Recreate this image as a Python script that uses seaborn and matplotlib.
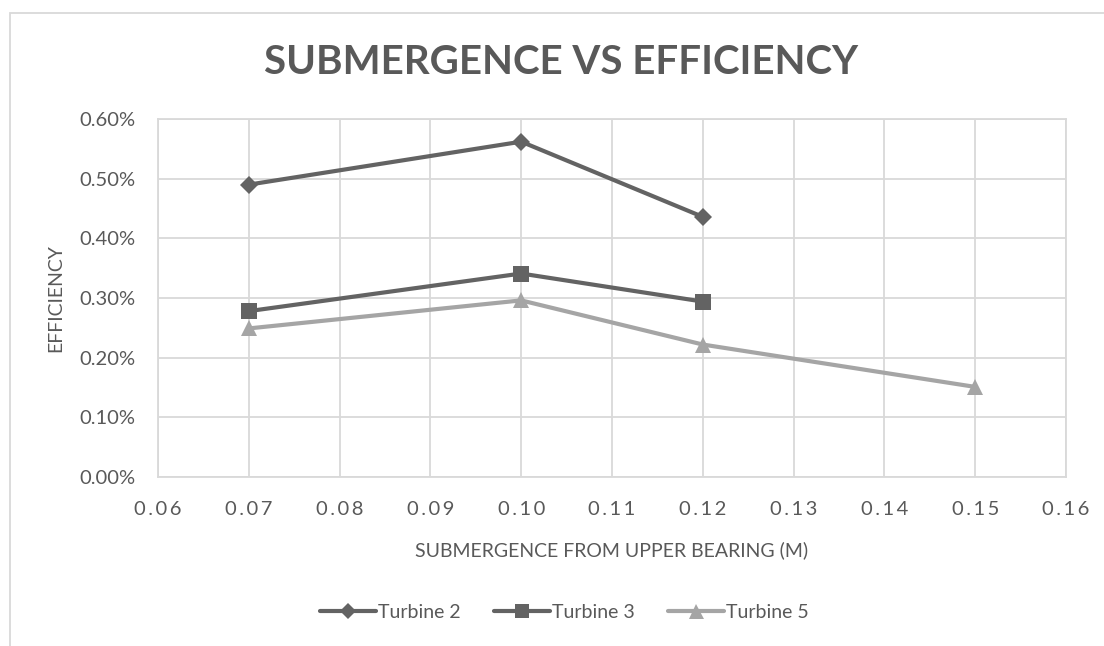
import numpy as np
import pandas as pd
import seaborn as sns
import matplotlib
matplotlib.use("Agg")
import matplotlib.pyplot as plt
from matplotlib.patches import Rectangle
from matplotlib.lines import Line2D
from matplotlib.ticker import FuncFormatter, MultipleLocator

# data (efficiency in %)
t2_x = [0.07, 0.10, 0.12]
t2_y = [0.490, 0.562, 0.436]
t3_x = [0.07, 0.10, 0.12]
t3_y = [0.278, 0.341, 0.294]
t5_x = [0.07, 0.10, 0.12, 0.15]
t5_y = [0.249, 0.296, 0.222, 0.151]
series_names = ["Turbine 2", "Turbine 3", "Turbine 5"]

TEXT = "#595959"
GRID = "#d9d9d9"
colors = {"Turbine 2": "#636363", "Turbine 3": "#636363", "Turbine 5": "#a5a5a5"}
markers = {"Turbine 2": "D", "Turbine 3": "s", "Turbine 5": "^"}
msizes = {"Turbine 2": 9, "Turbine 3": 11, "Turbine 5": 12}

df = pd.concat([
    pd.DataFrame({"x": t2_x, "y": t2_y, "series": "Turbine 2"}),
    pd.DataFrame({"x": t3_x, "y": t3_y, "series": "Turbine 3"}),
    pd.DataFrame({"x": t5_x, "y": t5_y, "series": "Turbine 5"}),
])

sns.set_theme(style="white")
plt.rcParams["font.family"] = ["Lato", "DejaVu Sans"]

fig = plt.figure(figsize=(11.04, 6.46), dpi=100)
ax = fig.add_axes([158 / 1104, 1 - 477 / 646, (1066 - 158) / 1104, (477 - 119) / 646])

for name in series_names:
    sub = df[df["series"] == name]
    sns.lineplot(data=sub, x="x", y="y", ax=ax, color=colors[name], linewidth=3,
                 marker=markers[name], markersize=msizes[name],
                 markeredgewidth=0, legend=False, zorder=3)

ax.set_xlim(0.06, 0.16)
ax.set_ylim(0, 0.6)
ax.xaxis.set_major_locator(MultipleLocator(0.01))
ax.yaxis.set_major_locator(MultipleLocator(0.1))
# the x labels are letter-spaced in the original
ax.xaxis.set_major_formatter(FuncFormatter(lambda v, p: "\u2009".join(f"{v:.2f}")))
ax.yaxis.set_major_formatter(FuncFormatter(lambda v, p: f"{v:.2f}%"))
ax.grid(True, color=GRID, linewidth=1.3)
for s in ax.spines.values():
    s.set_color(GRID)
    s.set_linewidth(1.3)
ax.tick_params(axis="both", length=0, colors=TEXT)
ax.tick_params(axis="x", pad=17, labelsize=14.5)
ax.tick_params(axis="y", pad=16, labelsize=14.5)

ax.set_xlabel("SUBMERGENCE FROM UPPER BEARING (M)", color=TEXT, fontsize=14, labelpad=17)
ax.set_ylabel("EFFICIENCY", color=TEXT, fontsize=14, labelpad=11)

fig.text(0.508, 1 - 63 / 646, "SUBMERGENCE VS EFFICIENCY", ha="center", va="center",
         fontsize=29, fontweight="bold", color=TEXT)

handles = [Line2D([0], [0], color=colors[n], lw=3, marker=markers[n],
                  markersize=msizes[n] * 0.9, markeredgewidth=0) for n in series_names]
fig.legend(handles, series_names, loc="center", bbox_to_anchor=(0.511, 1 - 612 / 646),
           ncol=3, frameon=False, fontsize=14, handlelength=2.9, handletextpad=0.1,
           columnspacing=1.7, labelcolor=TEXT)

# chart area border
fig.patches.append(Rectangle((9.5 / 1104, -0.1), 1.2, 1 - 12.5 / 646 + 0.1,
                             transform=fig.transFigure, fill=False, ec=GRID, lw=1.3))

fig.savefig("out.png", dpi=100, facecolor="white")
